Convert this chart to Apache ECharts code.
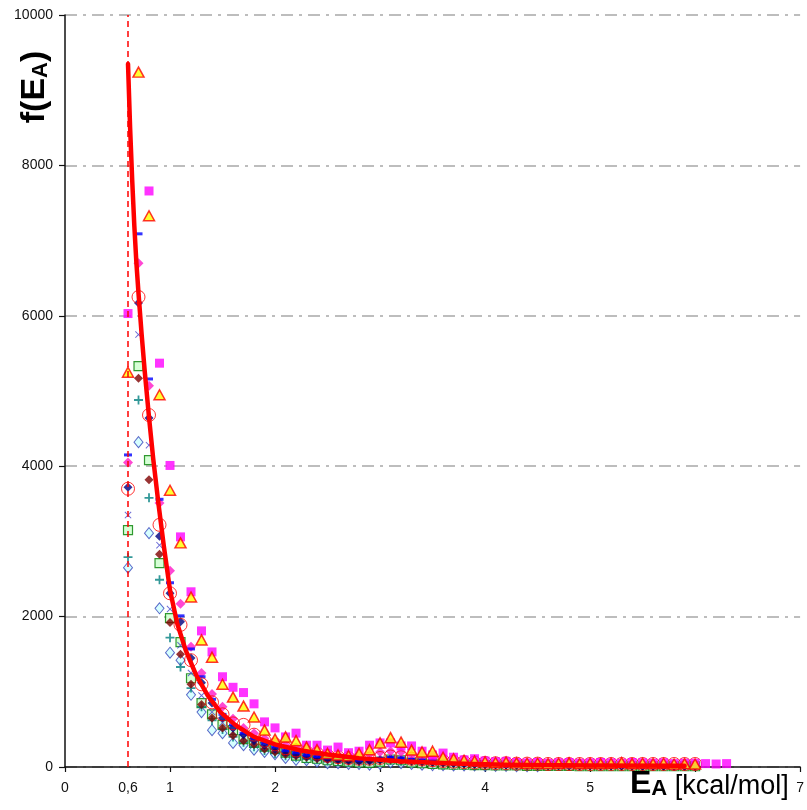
<!DOCTYPE html>
<html>
<head>
<meta charset="utf-8">
<script src="https://cdn.jsdelivr.net/npm/echarts@6/dist/echarts.min.js"></script>
<style>
  html, body { margin: 0; padding: 0; background: #fff; }
  #chart { width: 807px; height: 810px; }
</style>
</head>
<body>
<div id="chart"></div>
<script>
// Activation energy grid, kcal/mol (0.6 .. 6.3 in steps of 0.1)
const xGrid = [0.6, 0.7, 0.8, 0.9, 1.0, 1.1, 1.2, 1.3, 1.4, 1.5,
  1.6, 1.7, 1.8, 1.9, 2.0, 2.1, 2.2, 2.3, 2.4, 2.5,
  2.6, 2.7, 2.8, 2.9, 3.0, 3.1, 3.2, 3.3, 3.4, 3.5,
  3.6, 3.7, 3.8, 3.9, 4.0, 4.1, 4.2, 4.3, 4.4, 4.5,
  4.6, 4.7, 4.8, 4.9, 5.0, 5.1, 5.2, 5.3, 5.4, 5.5,
  5.6, 5.7, 5.8, 5.9, 6.0, 6.1, 6.2, 6.3];

// f(E_A) per data set, aligned with xGrid
const setDiamondOpen = [2650, 4320, 3110, 2110, 1520, 1420, 960, 730, 490, 450,
  320, 290, 230, 200, 170, 120, 95, 90, 70, 50,
  50, 40, 40, 30, 40, 60, 50, 40, 30, 25,
  25, 20, 20, 20, 15, 15, 15, 10, 10, 10];
const setSquareGreen = [3150, 5330, 4080, 2710, 1980, 1660, 1180, 850, 700, 560,
  490, 370, 320, 270, 240, 190, 150, 120, 110, 90,
  80, 70, 60, 55, 70, 100, 90, 60, 50, 40,
  35, 30, 30, 25, 25, 20, 20, 20, 15, 15,
  15, 15, 15, 10, 10, 10, 10, 10, 10, 10,
  10, 10, 10, 10, 10];
const setCross = [3350, 5750, 4280, 2950, 2100, 1620, 1250, 950, 730, 590,
  470, 390, 320, 270, 220, 190, 160, 140, 120, 100,
  90, 80, 75, 80, 95, 105, 95, 80, 70, 60,
  55, 50, 45, 40, 35, 30, 30, 25, 25, 20,
  20, 20, 20, 15, 15, 15, 15, 15, 15, 10,
  10, 10, 10, 10, 10];
const setPlus = [2790, 4880, 3580, 2490, 1720, 1330, 1050, 800, 620, 500,
  400, 330, 270, 220, 180, 150, 130, 110, 95, 80,
  70, 65, 60, 65, 75, 85, 75, 65, 55, 50,
  45, 40, 35, 30, 30, 25, 25, 20, 20, 20,
  15, 15, 15, 15, 15, 10, 10, 10, 10, 10,
  10, 10, 10, 10, 10];
const setMaroon = [null, 5170, 3820, 2830, 1920, 1500, 1100, 830, 650, 520,
  420, 350, 300, 240, 200, 170, 150, 130, 110, 100,
  90, 80, 75, 80, 90, 100, 90, 75, 65, 55,
  50, 45, 40, 35, 30, 30, 25, 25, 20, 20,
  20, 20, 15, 15, 15, 15, 15, 10, 10, 10,
  10, 10, 10, 10, 10];
const setNavy = [3720, 6170, 4640, 3070, 2310, 1930, 1450, 1120, 850, 650,
  520, 430, 350, 290, 240, 200, 170, 150, 130, 110,
  100, 90, 80, 85, 100, 110, 100, 85, 75, 65,
  60, 50, 45, 40, 35, 30, 30, 25, 25, 20,
  20, 20, 20, 15, 15, 15, 15, 15, 15, 10,
  10, 10, 10, 10, 10];
const setPinkDiamond = [4050, 6700, 5070, 3510, 2610, 2170, 1600, 1250, 970, 800,
  640, 520, 450, 380, 330, 290, 260, 230, 200, 180,
  160, 140, 150, 170, 200, 210, 200, 160, 140, 120,
  110, 90, 80, 70, 60, 55, 50, 50, 45, 45,
  40, 45, 40, 40, 45, 40, 40, 40, 35, 40,
  35, 40, 35, 35, 30];
const setDash = [4150, 7090, 5160, 3560, 2450, 2010, 1570, 1200, 900, 700,
  560, 450, 380, 320, 270, 220, 190, 160, 140, 120,
  110, 100, 90, 100, 110, 130, 120, 100, 90, 80,
  70, 60, 55, 50, 45, 40, 35, 30, 30, 25,
  25, 20, 20, 20, 20, 20, 15, 15, 15, 15,
  15, 15, 15, 10, 10];
const setCircle = [3700, 6250, 4680, 3220, 2310, 1890, 1420, 1100, 860, 700,
  580, 560, 430, 350, 300, 250, 220, 200, 180, 150,
  130, 120, 110, 110, 120, 140, 130, 110, 100, 90,
  80, 70, 65, 60, 55, 50, 50, 45, 45, 45,
  40, 40, 40, 40, 40, 40, 40, 40, 40, 40,
  40, 40, 40, 40, 40];
const setSquareMagenta = [6030, null, 7660, 5370, 4010, 3060, 2330, 1810, 1530, 1200,
  1060, 990, 840, 600, 520, 400, 450, 290, 290, 225,
  265, 190, 210, 290, 320, 320, 280, 280, 210, 160,
  185, 130, 95, 110, 80, 70, 75, 60, 55, 60,
  50, 55, 60, 50, 55, 60, 55, 50, 60, 55,
  50, 55, 45, 50, 50, 45, 40, 45];
const setTriangle = [5250, 9240, 7330, 4950, 3680, 2980, 2260, 1690, 1460, 1100,
  930, 810, 665, 490, 370, 400, 350, 265, 230, 180,
  160, 150, 180, 230, 320, 390, 330, 225, 200, 210,
  130, 110, 90, 80, 70, 60, 65, 55, 50, 50,
  45, 50, 55, 45, 50, 45, 50, 60, 45, 50,
  45, 50, 40, 45, 40];

// Fitted distribution curve
const fitX = [0.60, 0.62, 0.64, 0.66, 0.68, 0.70, 0.73, 0.76, 0.80, 0.84,
  0.89, 0.94, 1.00, 1.07, 1.15, 1.25, 1.36, 1.48, 1.62, 1.80,
  2.00, 2.25, 2.50, 2.80, 3.20, 3.70, 4.20, 5.00, 5.90];
const fitY = [9350, 8500, 7800, 7200, 6700, 6300, 5750, 5250, 4650, 4100,
  3500, 2950, 2350, 1900, 1550, 1220, 950, 730, 560, 400,
  300, 220, 165, 115, 75, 45, 30, 20, 15];

// Threshold energy and axis tick labels
const threshold = 0.6;
const xLabelValues = [0, 0.6, 1, 2, 3, 4, 5, 7];
const xTickValues = [0, 1, 2, 3, 4, 5, 6, 7];

function pairs(values) {
  const out = [];
  values.forEach((v, i) => { if (v !== null) out.push([xGrid[i], v]); });
  return out;
}

const PLUS = 'path://M4,0H6V10H4Z M0,4H10V6H0Z';
const CROSS = 'path://M1,0L5,4L9,0L10,1L6,5L10,9L9,10L5,6L1,10L0,9L4,5L0,1Z';
const FONT = 'Liberation Sans, Arial, sans-serif';

function scatter(values, symbol, size, style, z) {
  return {
    type: 'scatter', data: pairs(values), symbol: symbol, symbolSize: size,
    itemStyle: style, z: z || 2, silent: true
  };
}

const chart = echarts.init(document.getElementById('chart'), null, { renderer: 'canvas' });

chart.setOption({
  animation: false,
  backgroundColor: '#ffffff',
  grid: { left: 65, right: 2, top: 15, bottom: 43, containLabel: false },
  xAxis: {
    type: 'value', min: 0, max: 7, interval: 1,
    axisLine: { onZero: false, lineStyle: { color: '#111', width: 1.5 } },
    axisTick: { show: true, length: 5, customValues: xTickValues, lineStyle: { color: '#111', width: 1.2 } },
    axisLabel: {
      customValues: xLabelValues, margin: 14, color: '#111', fontSize: 14, fontFamily: FONT,
      formatter: v => String(v).replace('.', ',')
    },
    splitLine: { show: false }
  },
  yAxis: {
    type: 'value', min: 0, max: 10000, interval: 2000,
    axisLine: { show: true, lineStyle: { color: '#111', width: 1.5 } },
    axisTick: { show: true, length: 6, lineStyle: { color: '#111', width: 1.2 } },
    axisLabel: { margin: 12, color: '#111', fontSize: 14, fontFamily: FONT, formatter: v => String(v) },
    splitLine: { show: true, lineStyle: { color: '#a8a8a8', width: 1.5, type: [12, 6, 3, 6] } }
  },
  series: [
    {
      type: 'line', data: [], z: 1,
      markLine: {
        silent: true, symbol: 'none', label: { show: false },
        lineStyle: { color: '#ff0000', width: 1.5, type: [6, 4] },
        data: [{ xAxis: threshold }]
      }
    },
    scatter(setDiamondOpen, 'diamond', [9, 11], { color: '#ccffff', borderColor: '#3344bb', borderWidth: 1 }),
    scatter(setSquareGreen, 'rect', 9, { color: '#ccffcc', borderColor: '#008000', borderWidth: 1.2 }),
    scatter(setCross, CROSS, 7, { color: '#4444cc' }),
    scatter(setPlus, PLUS, 9, { color: '#008080' }),
    scatter(setMaroon, 'diamond', [9, 9], { color: '#800000' }),
    scatter(setNavy, 'diamond', [9, 9], { color: '#000080' }),
    scatter(setPinkDiamond, 'diamond', [10, 10], { color: '#ff19c8' }),
    scatter(setDash, 'rect', [8, 3], { color: '#0000ff' }),
    scatter(setCircle, 'circle', 13, { color: 'rgba(255,255,255,0)', borderColor: '#ff0000', borderWidth: 1 }),
    scatter(setSquareMagenta, 'rect', 9, { color: '#ff00ff' }, 3),
    scatter(setTriangle, 'triangle', [11, 10], { color: '#ffff00', borderColor: '#ff0000', borderWidth: 1.5 }, 4),
    {
      type: 'line', data: fitX.map((x, i) => [x, fitY[i]]), z: 5,
      smooth: false, showSymbol: false, symbol: 'none',
      lineStyle: { color: '#ff0000', width: 4.5, join: 'round', cap: 'round' }, silent: true
    }
  ],
  graphic: [
    {
      type: 'text', left: 630, top: 768, z: 10,
      style: {
        text: '{e|E}{a|A}{u| [kcal/mol]}',
        rich: {
          e: { fontSize: 32, fontWeight: 'bold', fontFamily: FONT, fill: '#000', verticalAlign: 'bottom' },
          a: { fontSize: 22, fontWeight: 'bold', fontFamily: FONT, fill: '#000', padding: [12, 0, 0, 0], verticalAlign: 'bottom' },
          u: { fontSize: 27, fontFamily: FONT, fill: '#000', verticalAlign: 'bottom' }
        }
      }
    },
    {
      type: 'text', x: 35, y: 87, rotation: Math.PI / 2, z: 10,
      style: {
        text: '{e|f(E}{a|A}{e|)}',
        align: 'center', verticalAlign: 'middle',
        rich: {
          e: { fontSize: 34, fontWeight: 'bold', fontFamily: FONT, fill: '#000', verticalAlign: 'bottom' },
          a: { fontSize: 22, fontWeight: 'bold', fontFamily: FONT, fill: '#000', padding: [10, 0, 0, 0], verticalAlign: 'bottom' }
        }
      }
    }
  ]
});
</script>
</body>
</html>
